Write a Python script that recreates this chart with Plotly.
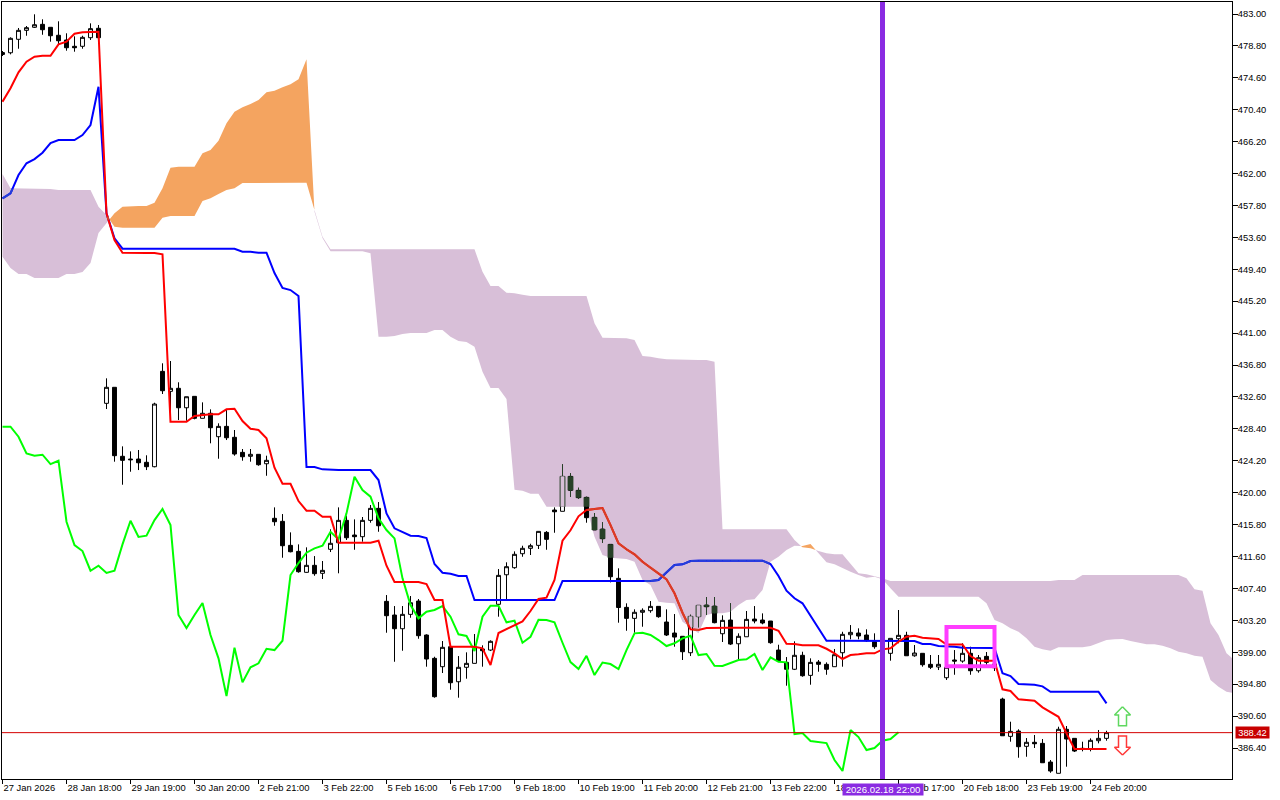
import plotly.graph_objects as go

opens = [477.67,477.90,479.67,480.85,481.25,481.64,481.25,480.20,479.58,478.75,478.75,479.88,481.12,431.76,433.87,424.79,424.43,424.43,424.00,423.42,
435.97,433.34,433.74,431.18,432.68,429.79,430.45,427.37,428.73,427.29,425.31,424.79,425.05,423.81,416.63,416.23,413.07,412.28,409.52,410.44,
409.39,412.55,413.42,416.36,414.43,414.21,416.36,417.94,405.70,403.90,402.10,403.99,405.74,401.27,398.20,397.10,399.73,395.12,397.02,397.54,
399.43,399.29,405.31,409.20,410.13,411.97,412.68,413.07,414.78,417.72,417.55,422.15,420.31,419.39,416.76,415.22,413.20,408.73,404.91,403.46,
404.26,404.47,405.04,402.98,401.53,401.10,398.94,403.68,405.22,405.08,401.44,403.24,400.12,401.04,403.37,403.24,403.11,399.29,397.67,396.76,
398.60,395.96,397.71,397.41,397.10,398.94,401.31,401.53,401.27,400.39,400.08,398.86,400.78,401.23,398.54,398.86,397.41,397.06,395.65,397.98,
397.84,398.86,396.57,398.46,397.45,392.84,387.93,388.63,386.62,387.15,387.01,384.55,383.07,388.86,387.67,386.36,386.26,387.36,387.67]
highs = [478.13,479.93,481.16,481.42,482.96,482.30,481.25,482.04,480.46,480.06,480.14,481.77,481.55,435.05,433.87,426.10,425.44,425.62,424.92,431.84,
437.03,437.33,434.53,432.63,432.68,431.89,430.97,429.13,430.88,428.25,425.75,425.75,425.05,424.87,418.07,417.19,414.78,413.20,412.81,411.66,
411.01,415.18,418.07,416.97,416.49,416.80,418.38,418.77,406.53,405.08,405.08,406.40,406.01,401.36,398.41,400.48,399.95,398.50,398.99,401.40,
399.91,400.57,409.95,410.84,412.28,413.02,413.28,414.95,414.95,418.07,423.73,422.55,420.65,419.47,417.32,416.10,413.20,410.05,405.44,404.65,
404.78,405.74,405.04,404.65,404.03,401.10,403.94,405.22,406.27,406.27,403.86,405.44,401.49,404.43,405.08,404.12,403.11,399.99,398.37,400.44,
399.07,398.20,397.98,397.67,399.43,401.70,402.58,402.15,402.02,401.49,400.48,400.83,404.56,401.70,399.95,398.86,398.64,398.64,399.29,399.29,
400.18,399.73,398.64,399.03,397.98,393.02,389.86,388.86,387.71,388.11,387.58,384.82,389.20,389.29,387.67,387.23,387.67,388.77,388.67]
lows = [477.47,477.69,478.43,480.14,481.16,480.27,479.36,479.01,478.17,478.04,478.43,479.58,479.88,431.01,424.08,421.05,422.76,422.98,422.98,423.34,
432.99,429.96,429.56,429.47,429.66,429.79,426.50,424.47,426.93,424.87,424.21,424.08,423.55,422.23,415.65,411.44,412.15,409.47,409.47,409.07,
408.64,412.19,409.39,413.77,412.49,413.55,416.05,414.86,401.57,397.75,399.20,403.54,400.78,397.10,393.02,396.27,394.07,393.02,395.52,397.54,
397.10,399.16,403.68,405.87,409.99,411.57,411.80,412.59,412.49,414.73,417.55,419.47,419.17,416.05,415.09,413.42,408.20,402.89,401.83,401.57,
402.36,404.20,403.54,401.14,399.73,397.98,398.50,402.28,403.90,402.81,400.35,399.95,398.07,401.04,402.81,402.68,400.12,397.71,394.60,396.66,
395.78,394.73,396.44,396.04,397.10,397.10,400.70,400.70,400.39,399.46,399.29,397.89,400.18,398.54,398.41,397.10,396.79,396.66,395.35,396.04,
397.62,396.04,396.31,397.32,396.53,388.01,387.23,385.12,385.25,386.40,384.46,383.14,383.07,383.94,385.87,385.96,385.96,387.01,387.36]
closes = [477.93,479.80,480.85,481.20,481.59,480.93,480.14,479.48,478.56,478.56,479.93,481.07,479.88,433.87,424.87,424.26,424.34,423.94,423.42,431.67,
433.42,433.74,431.18,432.63,429.79,430.45,428.55,428.73,427.23,425.09,424.73,425.05,423.68,424.26,416.18,413.02,412.23,409.60,410.44,409.34,
409.78,413.34,416.36,414.07,414.21,416.36,417.94,415.65,403.81,402.10,403.99,405.52,401.18,398.11,393.15,399.65,394.99,397.02,397.54,399.73,
399.20,400.44,409.12,410.26,411.89,412.68,413.02,414.91,413.86,417.49,422.15,420.31,419.34,416.71,415.09,413.94,408.94,404.89,403.46,404.26,
404.52,405.04,403.68,401.27,401.00,399.07,403.73,405.18,404.99,402.89,403.20,400.08,401.10,403.33,403.11,402.85,400.26,397.89,396.76,398.60,
395.91,397.67,397.41,396.76,398.68,401.36,401.62,401.14,400.52,399.73,399.56,400.83,401.23,398.54,398.90,397.36,397.02,397.41,397.02,397.84,
398.86,396.57,398.28,397.67,396.96,388.01,388.59,386.57,387.15,386.96,384.46,383.37,388.86,387.58,386.00,386.22,387.41,387.67,388.42]

tenkan = [471.46,473.22,475.32,476.72,477.38,477.51,477.51,479.01,479.35,480.40,480.59,480.67,480.67,456.77,453.25,451.58,451.54,451.54,451.54,451.54,
451.37,429.34,429.34,429.34,430.09,430.22,430.31,430.31,430.97,431.05,429.43,428.42,428.25,427.16,423.29,421.18,421.18,418.90,417.63,417.63,
416.84,416.84,413.41,413.41,413.41,413.41,413.41,413.68,410.39,408.24,408.24,408.24,408.24,407.98,405.87,405.87,399.73,399.73,399.73,399.73,
399.52,397.32,401.53,402.06,402.58,403.07,404.43,406.01,406.18,408.51,413.68,415.05,416.89,417.72,417.85,417.98,415.74,413.34,412.55,411.89,
410.91,410.13,409.39,408.60,406.76,404.20,402.02,401.93,402.19,402.23,402.23,402.23,402.23,402.23,402.23,402.23,402.23,401.83,400.12,400.08,
399.91,399.91,399.91,399.46,398.86,398.11,398.63,398.73,398.86,398.86,399.38,399.52,400.39,401.04,401.18,400.91,400.83,400.74,400.02,400.02,
400.02,398.50,397.89,397.89,397.89,394.12,393.90,392.80,392.71,392.62,391.75,391.09,390.51,388.33,386.26,386.26,386.26,386.26,386.26]
kijun = [458.74,459.40,461.81,463.35,463.91,464.74,466.02,466.41,466.41,466.41,467.07,468.39,473.43,456.77,453.48,452.11,452.11,452.11,452.11,452.11,
452.11,452.11,452.11,452.11,452.11,452.11,452.11,452.11,452.11,452.11,451.71,451.71,451.58,451.58,448.91,446.94,446.67,445.88,423.38,423.38,
423.07,422.98,422.98,422.98,422.98,422.98,422.98,421.67,417.28,415.31,414.86,414.34,414.30,414.03,410.61,409.47,409.34,409.03,409.03,405.87,
405.87,405.87,405.87,405.87,405.87,405.87,405.87,405.87,405.87,405.87,408.37,408.37,408.37,408.37,408.37,408.37,408.37,408.37,408.37,408.37,
408.37,408.37,408.51,409.52,410.48,410.57,411.01,411.05,411.05,411.05,411.05,411.05,411.05,411.05,411.05,411.05,410.61,409.03,407.10,406.10,
405.44,403.81,402.15,400.52,400.52,400.52,400.52,400.52,400.52,400.52,400.52,400.52,400.52,400.52,400.48,400.08,400.08,399.82,399.82,399.73,
399.60,399.60,399.60,399.60,399.56,396.23,395.87,394.82,394.82,394.73,394.51,393.80,393.80,393.80,393.80,393.80,393.80,393.80,392.28]
chikou = [428.68,428.68,427.37,425.18,424.87,425.00,423.77,424.21,416.18,413.11,412.32,409.73,410.39,409.43,409.73,413.20,416.31,414.17,414.34,416.40,
417.85,415.74,403.90,402.19,403.90,405.48,401.27,398.20,393.24,399.60,395.04,397.02,397.54,399.46,399.29,400.52,409.16,410.74,412.10,412.68,
413.02,414.86,413.86,417.28,422.10,420.35,419.47,416.63,415.09,413.99,408.73,405.22,403.46,404.33,404.56,405.08,403.68,401.36,401.14,399.16,
403.68,405.12,405.12,402.94,403.15,400.25,401.04,403.28,403.24,402.94,400.25,397.71,396.79,398.54,396.00,397.65,397.45,396.79,399.29,401.49,
401.57,401.27,400.61,399.82,400.18,400.83,401.18,398.63,398.77,397.23,397.19,397.54,397.98,398.07,398.77,396.66,398.33,397.75,397.67,388.24,
388.37,387.32,387.19,387.05,384.82,383.37,388.76,387.84,386.13,386.40,387.36,387.58,388.46]

senkou_a = [451.06,449.57,448.78,448.78,448.25,448.25,448.25,448.25,448.78,448.78,449.04,450.23,454.17,455.49,
456.77,457.64,457.73,457.73,457.73,458.16,460.06,462.77,462.90,462.90,462.90,464.66,465.10,466.32,468.61,470.14,470.72,471.15,471.68,472.69,472.90,473.35,473.75,474.40,477.04,
456.98,453.52,451.77,451.77,451.77,451.77,451.77,451.50,440.53,440.53,440.62,440.88,441.01,441.01,441.01,441.41,441.41,440.53,439.96,439.83,439.21,
435.92,433.78,433.78,432.33,420.39,420.26,419.86,419.86,418.15,418.15,418.15,418.15,418.15,418.15,414.21,411.80,411.44,411.36,411.27,410.91,
408.51,407.85,405.65,405.52,405.44,403.02,402.28,401.49,403.90,404.12,404.12,404.33,405.22,405.87,405.97,407.19,410.91,411.57,412.45,413.02,
412.98,413.24,412.02,410.84,410.57,410.05,409.60,409.16,408.81,408.94,408.60,407.41,406.31,406.31,406.31,406.31,406.31,406.31,406.31,406.31,
406.31,406.31,406.31,405.44,403.24,402.81,402.15,401.70,400.83,399.73,399.39,399.20,399.65,399.65,399.65,399.65,399.82,400.18,400.61,400.70,
400.74,400.48,400.26,400.04,400.04,399.86,399.52,399.07,398.86,398.54,398.41,395.35,394.46,393.80,393.59]
senkou_b = [461.94,460.06,459.97,459.97,459.97,459.97,459.97,459.83,459.83,459.83,459.83,459.83,457.64,456.54,
455.00,454.87,454.87,454.87,454.87,454.87,456.19,456.41,456.41,456.41,456.41,458.39,458.74,459.31,459.83,460.06,460.76,460.79,460.79,460.79,460.79,460.79,460.79,460.79,460.79,
457.20,453.69,452.03,452.03,452.03,452.03,452.03,452.03,452.03,452.03,452.03,452.03,452.03,452.03,452.03,452.03,452.03,452.03,452.03,452.03,452.03,
449.08,447.20,447.20,446.32,446.24,446.05,445.88,445.88,445.88,445.88,445.88,445.88,445.88,445.88,442.29,440.40,440.32,440.32,440.32,440.09,
437.99,437.89,437.68,437.55,437.55,437.46,437.46,437.46,437.46,437.24,415.18,415.18,415.18,415.18,415.18,415.18,415.18,415.18,415.18,413.77,
412.81,412.68,412.32,412.02,411.89,411.89,410.70,409.39,409.26,409.03,408.73,408.37,408.37,408.37,408.37,408.37,408.37,408.37,408.37,408.37,
408.37,408.37,408.37,408.37,408.37,408.37,408.37,408.37,408.37,408.37,408.37,408.37,408.51,408.51,408.51,409.16,409.16,409.16,409.16,409.16,
409.16,409.16,409.16,409.16,409.16,409.16,409.16,409.16,408.73,407.28,407.10,402.81,401.27,398.86,397.98]

tick_labels = ["27 Jan 2026","28 Jan 18:00","29 Jan 19:00","30 Jan 20:00","2 Feb 21:00","3 Feb 22:00","5 Feb 16:00","6 Feb 17:00","9 Feb 18:00",
"10 Feb 19:00","11 Feb 20:00","12 Feb 21:00","13 Feb 22:00","18 Feb 16:00","19 Feb 17:00","20 Feb 18:00","23 Feb 19:00","24 Feb 20:00"]
tick_positions = [0,8,16,24,32,40,48,56,64,72,80,88,96,104,112,120,128,136]
price_ticks = [483.0,478.8,474.6,470.4,466.2,462.0,457.8,453.6,449.4,445.2,441.0,436.8,432.6,428.4,424.2,420.0,415.8,411.6,407.4,403.2,399.0,394.8,390.6,386.4]
last_price = 388.42
cursor_bar = 110
cursor_label = "2026.02.18 22:00"
box_bars = [118, 124]
box_prices = [397.15, 402.32]
arrow_bar = 140
arrow_up = [391.83, 390.74, 389.33]
arrow_down = [387.97, 386.49, 385.47]

X_RANGE = [-0.0625, 153.6875]
Y_RANGE = [382.32, 484.58]
THISTLE, SAND = "#D8BFD8", "#F4A460"
DARK = "#274027"

# cloud polygons, split where the two spans cross
def cloud_polys():
    polys = {THISTLE: ([], []), SAND: ([], [])}
    n = min(len(senkou_a), len(senkou_b))
    def col(i):
        return SAND if senkou_a[i] > senkou_b[i] else THISTLE
    run_a, run_b, run_x = [senkou_a[0]], [senkou_b[0]], [0]
    cur = col(0)
    def flush(c):
        xs, ys = polys[c]
        xs += run_x + run_x[::-1] + [None]
        ys += run_a + run_b[::-1] + [None]
    for i in range(1, n):
        c = col(i)
        if c != cur:
            d0 = senkou_a[i-1] - senkou_b[i-1]
            d1 = senkou_a[i] - senkou_b[i]
            t = d0 / (d0 - d1)
            xc = i - 1 + t
            yc = senkou_a[i-1] + t * (senkou_a[i] - senkou_a[i-1])
            run_x.append(xc); run_a.append(yc); run_b.append(yc)
            flush(cur)
            run_x, run_a, run_b = [xc], [yc], [yc]
            cur = c
        run_x.append(i); run_a.append(senkou_a[i]); run_b.append(senkou_b[i])
    flush(cur)
    return polys

def thistle_band(x):
    i = int(x)
    if i + 1 >= len(senkou_a):
        return None
    t = x - i
    a = senkou_a[i] + t * (senkou_a[i+1] - senkou_a[i])
    b = senkou_b[i] + t * (senkou_b[i+1] - senkou_b[i])
    return (a, b) if a < b else None

def in_cloud_segments(series):
    xs, ys = [], []
    for i in range(len(series) - 1):
        prev = None
        for k in range(9):
            t = k / 8
            x = i + t
            y = series[i] + t * (series[i+1] - series[i])
            band = thistle_band(x)
            inside = band is not None and band[0] <= y <= band[1]
            if inside:
                if prev is None:
                    xs.append(None); ys.append(None)
                xs.append(x); ys.append(y)
                prev = True
            else:
                prev = None
    return xs, ys

def overlap(lo, hi, band):
    a, b = max(lo, band[0]), min(hi, band[1])
    return (a, b) if b > a else None

wx, wy, bx, by, ix, iy = [], [], [], [], [], []
for i in range(len(opens)):
    band = thistle_band(i)
    if band is None:
        continue
    w = overlap(lows[i], highs[i], band)
    if w:
        wx += [i, i, None]; wy += [w[0], w[1], None]
    top, bot = max(opens[i], closes[i]), min(opens[i], closes[i])
    b = overlap(bot, top, band)
    if b:
        bx += [i, i, None]; by += [b[0], b[1], None]
        if closes[i] >= opens[i]:
            ix += [i, i, None]; iy += [b[0], b[1], None]

polys = cloud_polys()
fig = go.Figure()
for colour, (xs, ys) in polys.items():
    fig.add_trace(go.Scatter(x=xs, y=ys, mode="lines", fill="toself", fillcolor=colour,
                             line=dict(width=0, color=colour), hoverinfo="skip", showlegend=False))

bars = list(range(len(opens)))
fig.add_trace(go.Candlestick(x=bars, open=opens, high=highs, low=lows, close=closes, xaxis="x2", yaxis="y2",
    increasing=dict(line=dict(color="#000000", width=1), fillcolor="#FFFFFF"),
    decreasing=dict(line=dict(color="#000000", width=1), fillcolor="#000000"),
    whiskerwidth=0, showlegend=False))

def overlay(xs, ys, colour, width):
    fig.add_trace(go.Scatter(x=xs, y=ys, mode="lines", line=dict(color=colour, width=width),
                             xaxis="x2", yaxis="y2", hoverinfo="skip", showlegend=False, connectgaps=False))

overlay(wx, wy, DARK, 1)
overlay(bx, by, DARK, 5.8)
overlay(ix, iy, THISTLE, 3.8)

for series, colour, cloud_colour in [(chikou, "#00FF00", "#27BF27"), (kijun, "#0000FF", "#2740D8"), (tenkan, "#FF0000", "#D84027")]:
    overlay(list(range(len(series))), series, colour, 2)
    cx, cy = in_cloud_segments(series)
    overlay(cx, cy, cloud_colour, 2)

# hollow arrows beside the last bar
ax = [arrow_bar, arrow_bar+1, arrow_bar+0.5, arrow_bar+0.5, arrow_bar-0.5, arrow_bar-0.5, arrow_bar-1, arrow_bar]
ay = [arrow_up[0], arrow_up[1], arrow_up[1], arrow_up[2], arrow_up[2], arrow_up[1], arrow_up[1], arrow_up[0]]
overlay(ax, ay, "#5FD85F", 1.5)
dy = [arrow_down[2], arrow_down[1], arrow_down[1], arrow_down[0], arrow_down[0], arrow_down[1], arrow_down[1], arrow_down[2]]
overlay(ax, dy, "#FF3838", 1.5)

fig.add_shape(type="line", xref="paper", x0=0, x1=1, yref="y", y0=last_price, y1=last_price,
              line=dict(color="#D40000", width=1), layer="above")
fig.add_shape(type="line", xref="x", x0=cursor_bar, x1=cursor_bar, yref="paper", y0=0, y1=1,
              line=dict(color="#8A2BE2", width=5), layer="above")
fig.add_shape(type="rect", xref="x", x0=box_bars[0], x1=box_bars[1], yref="y", y0=box_prices[0], y1=box_prices[1],
              line=dict(color="#FF3DFF", width=4), fillcolor="rgba(0,0,0,0)", layer="above")

fig.add_annotation(x=1, xref="paper", y=last_price, yref="y", text=f"{last_price:.2f}", showarrow=False, xanchor="left",
                   xshift=3, width=33, height=11, bgcolor="#C80000", borderpad=0, font=dict(color="#FFFFFF", size=9.3, family="Liberation Sans"))
fig.add_annotation(x=cursor_bar, xref="x", y=-0.0129, yref="paper", text=cursor_label, showarrow=False, xanchor="center", yanchor="middle",
                   width=80, height=11, bgcolor="#8A2BE2", borderpad=0, font=dict(color="#FFFFFF", size=9.6, family="Liberation Sans"))

fig.update_layout(
    width=1280, height=800, paper_bgcolor="#FFFFFF", plot_bgcolor="#FFFFFF",
    margin=dict(l=2, r=48, t=2, b=21, pad=0), showlegend=False, hovermode=False,
    font=dict(family="Liberation Sans", color="#000000", size=10),
    xaxis=dict(range=X_RANGE, tickmode="array", tickvals=tick_positions, ticktext=tick_labels, ticks="outside", ticklen=4,
               tickcolor="#000000", ticklabelposition="outside right", tickangle=0, automargin=False, tickfont=dict(size=9.4), showgrid=False, zeroline=False,
               showline=True, mirror=True, linecolor="#000000", linewidth=1, fixedrange=True),
    yaxis=dict(range=Y_RANGE, side="right", tickmode="array", tickvals=price_ticks, tickformat=".2f", ticks="outside", ticklen=5, automargin=False,
               ticklabelstandoff=-2, tickcolor="#000000", tickfont=dict(size=9.3), showgrid=False, zeroline=False,
               showline=True, mirror=True, linecolor="#000000", linewidth=1, fixedrange=True),
    xaxis2=dict(range=X_RANGE, overlaying="x", visible=False, rangeslider=dict(visible=False), fixedrange=True),
    yaxis2=dict(range=Y_RANGE, overlaying="y", visible=False, fixedrange=True),
)
fig.write_html("out.html", config=dict(displayModeBar=False), post_script="document.body.style.margin='0';")
